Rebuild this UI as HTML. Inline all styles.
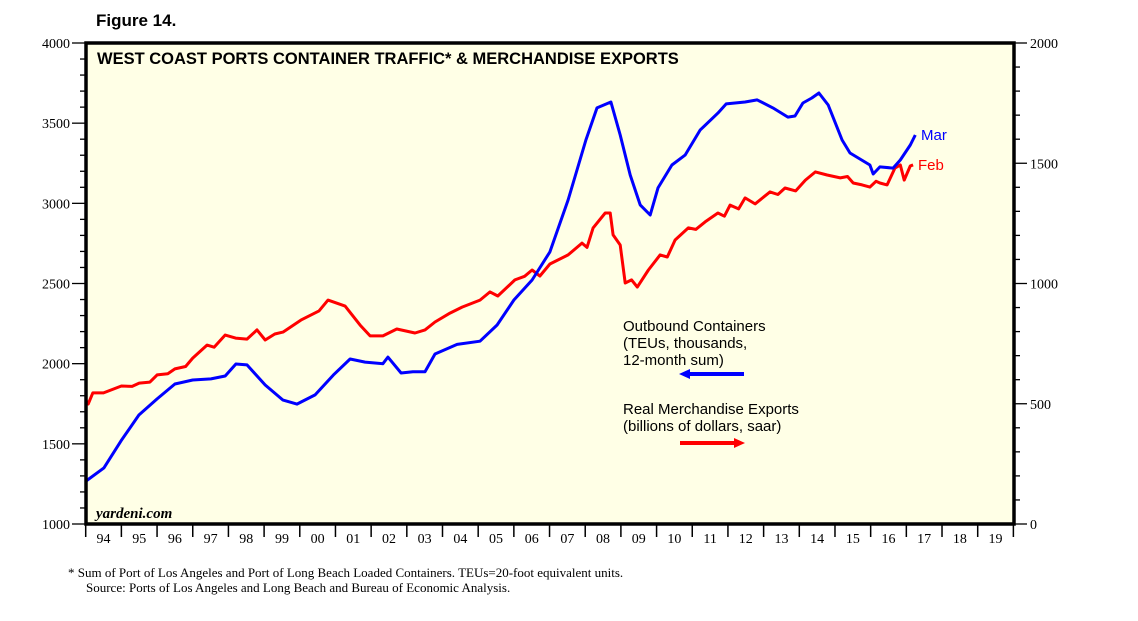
<!DOCTYPE html>
<html><head><meta charset="utf-8"><style>
body{margin:0;background:#fff;width:1138px;height:621px;overflow:hidden}
svg{display:block}
.tk{font-family:"Liberation Serif",serif;font-size:14px;fill:#000}
.sans{font-family:"Liberation Sans",sans-serif}
</style></head><body>
<svg id="chart" width="1138" height="621" viewBox="0 0 1138 621" xmlns="http://www.w3.org/2000/svg">
<text x="96" y="26" class="sans" font-size="17" font-weight="bold">Figure 14.</text>
<rect x="86" y="43" width="928" height="481" fill="#ffffe6"/>
<g id="grid"></g>
<g id="series"></g>
<rect x="86" y="43" width="928" height="481" fill="none" stroke="#000" stroke-width="3.5"/>
<text x="97" y="64" class="sans" font-size="16.5" font-weight="bold">WEST COAST PORTS CONTAINER TRAFFIC* &amp; MERCHANDISE EXPORTS</text>
<text x="96" y="518" font-family="Liberation Serif,serif" font-size="15" font-style="italic" font-weight="bold">yardeni.com</text>
<g class="sans" font-size="15">
<text x="623" y="331">Outbound Containers</text>
<text x="623" y="348">(TEUs, thousands,</text>
<text x="623" y="365">12-month sum)</text>
<line x1="744" y1="374" x2="688" y2="374" stroke="#0000ff" stroke-width="4"/>
<polygon points="679,374 690,369 690,379" fill="#0000ff"/>
<text x="623" y="414">Real Merchandise Exports</text>
<text x="623" y="431">(billions of dollars, saar)</text>
<line x1="680" y1="443" x2="736" y2="443" stroke="#ff0000" stroke-width="4"/>
<polygon points="745,443 734,438 734,448" fill="#ff0000"/>
</g>
<text x="921" y="140" class="sans" font-size="15" fill="#0000ff">Mar</text>
<text x="918" y="170" class="sans" font-size="15" fill="#ff0000">Feb</text>
<text x="68" y="577" font-family="Liberation Serif,serif" font-size="13">*   Sum of Port of Los Angeles and Port of Long Beach Loaded Containers. TEUs=20-foot equivalent units.</text>
<text x="86" y="592" font-family="Liberation Serif,serif" font-size="13">Source: Ports of Los Angeles and Long Beach and Bureau of Economic Analysis.</text>
</svg>
<script>
const years=["94","95","96","97","98","99","00","01","02","03","04","05","06","07","08","09","10","11","12","13","14","15","16","17","18","19"];
const leftTicks=[1000,1500,2000,2500,3000,3500,4000];
const rightTicks=[0,500,1000,1500,2000];
const blueX=[1994.01,1994.51,1994.99,1995.49,1996.0,1996.5,1997.0,1997.51,1997.91,1998.21,1998.52,1999.03,1999.53,1999.92,2000.43,2000.94,2001.41,2001.83,2002.33,2002.47,2002.84,2003.17,2003.51,2003.79,2004.41,2005.05,2005.53,2006.0,2006.51,2007.01,2007.52,2008.02,2008.33,2008.72,2008.98,2009.26,2009.54,2009.82,2010.04,2010.43,2010.8,2011.22,2011.72,2011.95,2012.48,2012.82,2013.26,2013.68,2013.88,2014.1,2014.35,2014.55,2014.81,2015.2,2015.42,2015.98,2016.07,2016.26,2016.63,2016.83,2017.11,2017.25];
const blueY=[1268,1350,1518,1680,1780,1873,1898,1905,1923,1998,1992,1867,1773,1748,1805,1929,2029,2010,2000,2041,1942,1950,1950,2060,2120,2140,2241,2397,2522,2697,3021,3395,3595,3632,3426,3177,2990,2927,3096,3239,3301,3457,3563,3620,3632,3645,3595,3538,3545,3626,3657,3688,3613,3395,3314,3239,3183,3227,3220,3270,3364,3426];
const redX=[1994.0,1994.07,1994.2,1994.5,1995.0,1995.3,1995.5,1995.8,1996.0,1996.3,1996.5,1996.8,1997.0,1997.4,1997.6,1997.91,1998.2,1998.52,1998.8,1999.03,1999.3,1999.53,2000.03,2000.54,2000.79,2001.27,2001.69,2001.97,2002.33,2002.72,2003.23,2003.51,2003.79,2004.21,2004.55,2005.05,2005.33,2005.55,2006.03,2006.3,2006.51,2006.73,2007.01,2007.52,2007.91,2008.05,2008.22,2008.56,2008.7,2008.78,2008.98,2009.12,2009.3,2009.46,2009.77,2010.1,2010.3,2010.52,2010.89,2011.1,2011.36,2011.72,2011.9,2012.06,2012.3,2012.48,2012.76,2013.18,2013.4,2013.6,2013.9,2014.17,2014.45,2014.78,2015.15,2015.35,2015.51,2015.76,2015.98,2016.15,2016.26,2016.46,2016.68,2016.83,2016.94,2017.11,2017.19];
const redY=[516,499,545,545,574,572,586,590,620,625,645,655,690,744,735,786,773,769,807,765,790,798,848,886,931,906,827,782,782,811,794,807,840,877,902,931,965,948,1015,1030,1056,1031,1081,1119,1168,1150,1231,1293,1293,1202,1160,1002,1015,985,1056,1119,1110,1181,1231,1225,1256,1293,1280,1326,1310,1356,1331,1381,1370,1397,1385,1430,1464,1451,1439,1445,1418,1410,1401,1425,1418,1410,1480,1493,1430,1489,1493];
const NS="http://www.w3.org/2000/svg";
const X0=85.7,PXY=35.68,YB=524,H=481;
const xs=t=>X0+(t-1994)*PXY;
const yL=v=>YB-(v-1000)/3000*H;
const yR=v=>YB-v/2000*H;
function mk(tag,attrs,parent){const e=document.createElementNS(NS,tag);for(const k in attrs)e.setAttribute(k,attrs[k]);parent.appendChild(e);return e;}
const g=document.getElementById('grid');
for(let v=1000;v<=4000;v+=100){const y=yL(v),major=v%500===0;
 const l=mk('line',{x1:major?72:80,x2:86,y1:y,y2:y,stroke:'#000','stroke-width':1.3},g);
 
 }
leftTicks.forEach(v=>{const t=mk('text',{x:70,y:yL(v)+5,'text-anchor':'end',class:'tk'},g);t.textContent=v;
 
 });
for(let v=0;v<=2000;v+=100){const y=yR(v),major=v%500===0;
 const l=mk('line',{x1:1014,x2:major?1027:1020,y1:y,y2:y,stroke:'#000','stroke-width':1.3},g);
 
 }
rightTicks.forEach(v=>{const t=mk('text',{x:1030,y:yR(v)+5,class:'tk'},g);t.textContent=v;
 
 });
for(let i=0;i<=years.length;i++){const x=xs(1994+i);
 const l=mk('line',{x1:x,x2:x,y1:524,y2:537,stroke:'#000','stroke-width':1.5},g);
 
 }
years.forEach((s,i)=>{const t=mk('text',{x:xs(1994.5+i),y:543,'text-anchor':'middle',class:'tk'},g);t.textContent=s;
 
 });
const sg=document.getElementById('series');
const rp=mk('polyline',{points:redX.map((t,i)=>xs(t).toFixed(1)+','+yR(redY[i]).toFixed(1)).join(' '),fill:'none',stroke:'#ff0000','stroke-width':3,'stroke-linejoin':'round'},sg);


const bp=mk('polyline',{points:blueX.map((t,i)=>xs(t).toFixed(1)+','+yL(blueY[i]).toFixed(1)).join(' '),fill:'none',stroke:'#0000ff','stroke-width':3,'stroke-linejoin':'round'},sg);


</script>
</body></html>
